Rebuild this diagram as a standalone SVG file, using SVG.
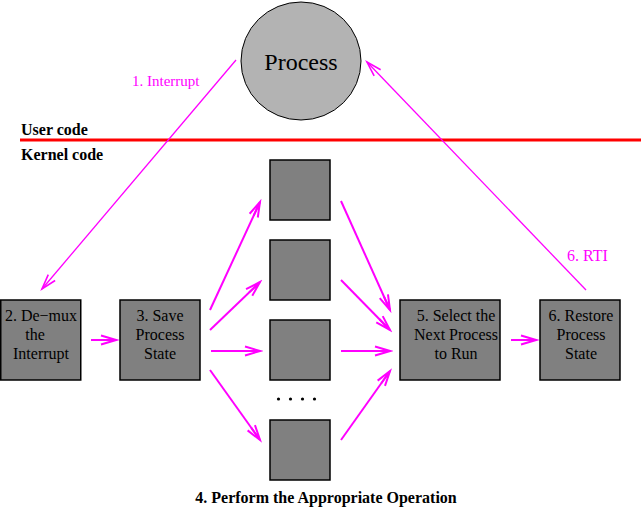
<svg xmlns="http://www.w3.org/2000/svg" width="644" height="510" viewBox="0 0 644 510">
<style>
.box{fill:#808080;stroke:#000;stroke-width:1.5}
.t{font-family:"Liberation Serif","Times New Roman",serif;font-size:16px;fill:#000;text-anchor:middle}
.b{font-family:"Liberation Serif","Times New Roman",serif;font-size:16px;font-weight:bold;fill:#000}
.m{font-family:"Liberation Serif","Times New Roman",serif;font-size:16px;fill:#ff00ff}
.c{stroke:#ff00ff;stroke-width:2;fill:none;marker-end:url(#ah)}
.c1{stroke:#ff00ff;stroke-width:1.3;fill:none;marker-end:url(#ah1)}
</style>
<defs>
<marker id="ah" markerUnits="userSpaceOnUse" markerWidth="20" markerHeight="14" viewBox="-17 -7 20 14" refX="0" refY="0" orient="auto">
<path d="M-15,-4.5 L0,0 L-15,4.5 M-15,0 L0,0" stroke="#ff00ff" stroke-width="2" fill="none"/>
</marker>
<marker id="ah1" markerUnits="userSpaceOnUse" markerWidth="20" markerHeight="14" viewBox="-17 -7 20 14" refX="0" refY="0" orient="auto">
<path d="M-15,-4.5 L0,0 L-15,4.5" stroke="#ff00ff" stroke-width="1.6" fill="none"/>
</marker>
</defs>
<g id="process">
<ellipse cx="301" cy="61" rx="60" ry="59" fill="#b3b3b3" stroke="#000" stroke-width="1"/>
<text class="t" x="301" y="70" style="font-size:24px">Process</text>
</g>
<g id="divider">
<line x1="20" y1="140" x2="641" y2="140" stroke="#ff0000" stroke-width="3"/>
<text class="b" x="21" y="135">User code</text>
<text class="b" x="21" y="160">Kernel code</text>
</g>
<g id="demux">
<rect class="box" x="0.75" y="300" width="80" height="80"/>
<text class="t" x="41" y="321">2. De−mux</text>
<text class="t" x="35" y="340">the</text>
<text class="t" x="41" y="359">Interrupt</text>
</g>
<g id="save">
<rect class="box" x="120" y="300" width="80" height="80"/>
<text class="t" x="160" y="321">3. Save</text>
<text class="t" x="160" y="340">Process</text>
<text class="t" x="160" y="359">State</text>
</g>
<g id="op1"><rect class="box" x="270" y="160" width="60" height="60"/></g>
<g id="op2"><rect class="box" x="270" y="240" width="60" height="60"/></g>
<g id="op3"><rect class="box" x="270" y="320" width="60" height="60"/></g>
<g id="opn"><rect class="box" x="270" y="420" width="60" height="60"/></g>
<g id="dots" fill="#000">
<circle cx="278.5" cy="399" r="1.6"/>
<circle cx="290.5" cy="399" r="1.6"/>
<circle cx="302.5" cy="399" r="1.6"/>
<circle cx="314.5" cy="399" r="1.6"/>
</g>
<g id="select">
<rect class="box" x="400" y="300" width="100" height="80"/>
<text class="t" x="456" y="321">5. Select the</text>
<text class="t" x="456" y="340">Next Process</text>
<text class="t" x="456" y="359">to Run</text>
</g>
<g id="restore">
<rect class="box" x="540" y="300" width="80" height="80"/>
<text class="t" x="581" y="321">6. Restore</text>
<text class="t" x="581" y="340">Process</text>
<text class="t" x="581" y="359">State</text>
</g>
<g id="caption">
<text class="b" x="326" y="503" text-anchor="middle">4. Perform the Appropriate Operation</text>
</g>
<g id="connectors">
<line class="c1" x1="236" y1="60" x2="42" y2="289"/>
<text class="m" x="132" y="86" style="font-size:15px">1. Interrupt</text>
<line class="c" x1="91" y1="340" x2="116" y2="340"/>
<line class="c" x1="210" y1="310" x2="260" y2="202"/>
<line class="c" x1="210" y1="330" x2="260" y2="282"/>
<line class="c" x1="211" y1="351" x2="260" y2="351"/>
<line class="c" x1="210" y1="370" x2="260" y2="440"/>
<line class="c" x1="341" y1="201" x2="390" y2="310"/>
<line class="c" x1="341" y1="280" x2="390" y2="330"/>
<line class="c" x1="341" y1="351" x2="390" y2="351"/>
<line class="c" x1="341" y1="440" x2="390" y2="371"/>
<line class="c" x1="511" y1="340" x2="536" y2="340"/>
<line class="c1" x1="586" y1="290" x2="367" y2="62"/>
<text class="m" x="567" y="261">6. RTI</text>
</g>
</svg>
